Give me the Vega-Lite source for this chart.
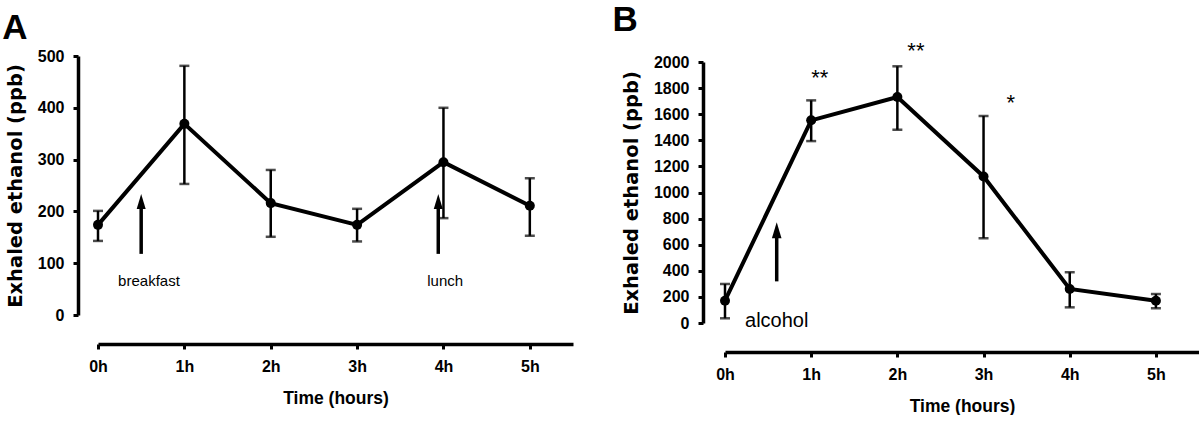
{
  "$schema": "https://vega.github.io/schema/vega-lite/v6.json",
  "background": "white",
  "padding": {"left": 2, "top": 3, "right": 0, "bottom": 0},
  "spacing": 39,
  "datasets": {
    "a": [
      {"h": 0, "v": 174, "lo": 143, "hi": 201},
      {"h": 1, "v": 369, "lo": 253, "hi": 481},
      {"h": 2, "v": 216, "lo": 151, "hi": 280},
      {"h": 3, "v": 174, "lo": 142, "hi": 205},
      {"h": 4, "v": 295, "lo": 187, "hi": 400},
      {"h": 5, "v": 211, "lo": 153, "hi": 264}
    ],
    "b": [
      {"h": 0, "v": 171, "lo": 36, "hi": 299},
      {"h": 1, "v": 1553, "lo": 1394, "hi": 1706},
      {"h": 2, "v": 1732, "lo": 1481, "hi": 1967},
      {"h": 3, "v": 1123, "lo": 650, "hi": 1586},
      {"h": 4, "v": 261, "lo": 120, "hi": 389},
      {"h": 5, "v": 171, "lo": 113, "hi": 222}
    ],
    "arrowsA": [
      {"h": 0.5, "from": 118, "to": 215, "head": 219},
      {"h": 3.94, "from": 118, "to": 215, "head": 219}
    ],
    "labelsA": [
      {"h": 0.59, "ly": 56, "label": "breakfast"},
      {"h": 4.02, "ly": 56, "label": "lunch"}
    ],
    "arrowsB": [
      {"h": 0.6, "from": 319, "to": 700, "head": 710}
    ],
    "labelsB": [
      {"h": 0.6, "ly": -28, "label": "alcohol"}
    ],
    "starsB": [
      {"h": 1.1, "sy": 1822, "label": "**"},
      {"h": 2.215, "sy": 2028, "label": "**"},
      {"h": 3.316, "sy": 1630, "label": "*"}
    ]
  },
  "config": {
    "view": {"stroke": null},
    "axis": {
      "grid": false,
      "domainColor": "black",
      "domainWidth": 3.5,
      "tickColor": "black",
      "tickWidth": 3,
      "tickSize": 5,
      "labelColor": "black",
      "labelFont": "Liberation Sans",
      "labelFontWeight": "bold",
      "labelFontSize": 16,
      "labelFlush": false,
      "labelOverlap": false,
      "titleColor": "black"
    },
    "axisX": {
      "labelPadding": 9,
      "titleFont": "Liberation Sans",
      "titleFontWeight": "bold",
      "titleFontSize": 17.5,
      "titlePadding": 15
    },
    "axisY": {
      "labelPadding": 9,
      "titleFont": "DejaVu Sans",
      "titleFontWeight": "bold",
      "titleFontSize": 19.5,
      "titlePadding": 12
    },
    "title": {
      "anchor": "start",
      "frame": "bounds",
      "font": "Liberation Sans",
      "fontWeight": "bold",
      "fontSize": 35,
      "color": "black",
      "offset": 2
    }
  },
  "hconcat": [
    {
      "title": {"text": "A", "dx": -3},
      "width": 475,
      "height": 259,
      "encoding": {
        "x": {"field": "h", "type": "quantitative", "scale": {"domain": [0, 5.5]},
          "axis": {"values": [0, 1, 2, 3, 4, 5], "labelExpr": "datum.value + 'h'", "title": "Time (hours)", "offset": 29}}
      },
      "layer": [
        {
          "data": {"name": "a"},
          "mark": {"type": "line", "color": "black", "strokeWidth": 4},
          "encoding": {
            "y": {"field": "v", "type": "quantitative", "scale": {"domain": [0, 500]},
              "axis": {"values": [0, 100, 200, 300, 400, 500], "format": "d", "title": "Exhaled ethanol (ppb)", "offset": 20}}
          }
        },
        {
          "data": {"name": "a"},
          "mark": {"type": "rule", "color": "black", "strokeWidth": 2.5},
          "encoding": {
            "y": {"field": "lo", "type": "quantitative", "scale": {"domain": [0, 500]},
              "axis": {"values": [0, 100, 200, 300, 400, 500], "format": "d", "title": "Exhaled ethanol (ppb)", "offset": 20}},
            "y2": {"field": "hi"}
          }
        },
        {
          "data": {"name": "a"},
          "mark": {"type": "tick", "orient": "horizontal", "color": "black", "size": 10, "thickness": 2.5},
          "encoding": {
            "y": {"field": "lo", "type": "quantitative", "scale": {"domain": [0, 500]},
              "axis": {"values": [0, 100, 200, 300, 400, 500], "format": "d", "title": "Exhaled ethanol (ppb)", "offset": 20}}
          }
        },
        {
          "data": {"name": "a"},
          "mark": {"type": "tick", "orient": "horizontal", "color": "black", "size": 10, "thickness": 2.5},
          "encoding": {
            "y": {"field": "hi", "type": "quantitative", "scale": {"domain": [0, 500]},
              "axis": {"values": [0, 100, 200, 300, 400, 500], "format": "d", "title": "Exhaled ethanol (ppb)", "offset": 20}}
          }
        },
        {
          "data": {"name": "a"},
          "mark": {"type": "point", "filled": true, "color": "black", "size": 100, "opacity": 1},
          "encoding": {
            "y": {"field": "v", "type": "quantitative", "scale": {"domain": [0, 500]},
              "axis": {"values": [0, 100, 200, 300, 400, 500], "format": "d", "title": "Exhaled ethanol (ppb)", "offset": 20}}
          }
        },
        {
          "data": {"name": "arrowsA"},
          "mark": {"type": "rule", "color": "black", "strokeWidth": 3.5},
          "encoding": {
            "y": {"field": "from", "type": "quantitative", "scale": {"domain": [0, 500]},
              "axis": {"values": [0, 100, 200, 300, 400, 500], "format": "d", "title": "Exhaled ethanol (ppb)", "offset": 20}},
            "y2": {"field": "to"}
          }
        },
        {
          "data": {"name": "arrowsA"},
          "mark": {"type": "point", "shape": "M-0.6,1L0,-1L0.6,1Z", "filled": true, "color": "black", "size": 225, "opacity": 1},
          "encoding": {
            "y": {"field": "head", "type": "quantitative", "scale": {"domain": [0, 500]},
              "axis": {"values": [0, 100, 200, 300, 400, 500], "format": "d", "title": "Exhaled ethanol (ppb)", "offset": 20}}
          }
        },
        {
          "data": {"name": "labelsA"},
          "mark": {"type": "text", "font": "Liberation Sans", "fontSize": 15, "color": "black", "baseline": "alphabetic", "align": "center"},
          "encoding": {
            "y": {"field": "ly", "type": "quantitative", "scale": {"domain": [0, 500]},
              "axis": {"values": [0, 100, 200, 300, 400, 500], "format": "d", "title": "Exhaled ethanol (ppb)", "offset": 20}},
            "text": {"field": "label"}
          }
        }
      ]
    },
    {
      "title": {"text": "B", "dx": -9},
      "width": 474,
      "height": 267,
      "encoding": {
        "x": {"field": "h", "type": "quantitative", "scale": {"domain": [0, 5.5]},
          "axis": {"values": [0, 1, 2, 3, 4, 5], "labelExpr": "datum.value + 'h'", "title": "Time (hours)", "offset": 29}}
      },
      "layer": [
        {
          "data": {"name": "b"},
          "mark": {"type": "line", "color": "black", "strokeWidth": 4},
          "encoding": {
            "y": {"field": "v", "type": "quantitative", "scale": {"domain": [0, 2000], "range": [267, 6]},
              "axis": {"values": [0, 200, 400, 600, 800, 1000, 1200, 1400, 1600, 1800, 2000], "format": "d", "title": "Exhaled ethanol (ppb)", "offset": 22}}
          }
        },
        {
          "data": {"name": "b"},
          "mark": {"type": "rule", "color": "black", "strokeWidth": 2.5},
          "encoding": {
            "y": {"field": "lo", "type": "quantitative", "scale": {"domain": [0, 2000], "range": [267, 6]},
              "axis": {"values": [0, 200, 400, 600, 800, 1000, 1200, 1400, 1600, 1800, 2000], "format": "d", "title": "Exhaled ethanol (ppb)", "offset": 22}},
            "y2": {"field": "hi"}
          }
        },
        {
          "data": {"name": "b"},
          "mark": {"type": "tick", "orient": "horizontal", "color": "black", "size": 10, "thickness": 2.5},
          "encoding": {
            "y": {"field": "lo", "type": "quantitative", "scale": {"domain": [0, 2000], "range": [267, 6]},
              "axis": {"values": [0, 200, 400, 600, 800, 1000, 1200, 1400, 1600, 1800, 2000], "format": "d", "title": "Exhaled ethanol (ppb)", "offset": 22}}
          }
        },
        {
          "data": {"name": "b"},
          "mark": {"type": "tick", "orient": "horizontal", "color": "black", "size": 10, "thickness": 2.5},
          "encoding": {
            "y": {"field": "hi", "type": "quantitative", "scale": {"domain": [0, 2000], "range": [267, 6]},
              "axis": {"values": [0, 200, 400, 600, 800, 1000, 1200, 1400, 1600, 1800, 2000], "format": "d", "title": "Exhaled ethanol (ppb)", "offset": 22}}
          }
        },
        {
          "data": {"name": "b"},
          "mark": {"type": "point", "filled": true, "color": "black", "size": 100, "opacity": 1},
          "encoding": {
            "y": {"field": "v", "type": "quantitative", "scale": {"domain": [0, 2000], "range": [267, 6]},
              "axis": {"values": [0, 200, 400, 600, 800, 1000, 1200, 1400, 1600, 1800, 2000], "format": "d", "title": "Exhaled ethanol (ppb)", "offset": 22}}
          }
        },
        {
          "data": {"name": "arrowsB"},
          "mark": {"type": "rule", "color": "black", "strokeWidth": 3.5},
          "encoding": {
            "y": {"field": "from", "type": "quantitative", "scale": {"domain": [0, 2000], "range": [267, 6]},
              "axis": {"values": [0, 200, 400, 600, 800, 1000, 1200, 1400, 1600, 1800, 2000], "format": "d", "title": "Exhaled ethanol (ppb)", "offset": 22}},
            "y2": {"field": "to"}
          }
        },
        {
          "data": {"name": "arrowsB"},
          "mark": {"type": "point", "shape": "M-0.6,1L0,-1L0.6,1Z", "filled": true, "color": "black", "size": 256, "opacity": 1},
          "encoding": {
            "y": {"field": "head", "type": "quantitative", "scale": {"domain": [0, 2000], "range": [267, 6]},
              "axis": {"values": [0, 200, 400, 600, 800, 1000, 1200, 1400, 1600, 1800, 2000], "format": "d", "title": "Exhaled ethanol (ppb)", "offset": 22}}
          }
        },
        {
          "data": {"name": "labelsB"},
          "mark": {"type": "text", "font": "Liberation Sans", "fontSize": 20, "color": "black", "baseline": "alphabetic", "align": "center"},
          "encoding": {
            "y": {"field": "ly", "type": "quantitative", "scale": {"domain": [0, 2000], "range": [267, 6]},
              "axis": {"values": [0, 200, 400, 600, 800, 1000, 1200, 1400, 1600, 1800, 2000], "format": "d", "title": "Exhaled ethanol (ppb)", "offset": 22}},
            "text": {"field": "label"}
          }
        },
        {
          "data": {"name": "starsB"},
          "mark": {"type": "text", "font": "Liberation Sans", "fontSize": 22, "color": "black", "baseline": "alphabetic", "align": "center"},
          "encoding": {
            "y": {"field": "sy", "type": "quantitative", "scale": {"domain": [0, 2000], "range": [267, 6]},
              "axis": {"values": [0, 200, 400, 600, 800, 1000, 1200, 1400, 1600, 1800, 2000], "format": "d", "title": "Exhaled ethanol (ppb)", "offset": 22}},
            "text": {"field": "label"}
          }
        }
      ]
    }
  ]
}
